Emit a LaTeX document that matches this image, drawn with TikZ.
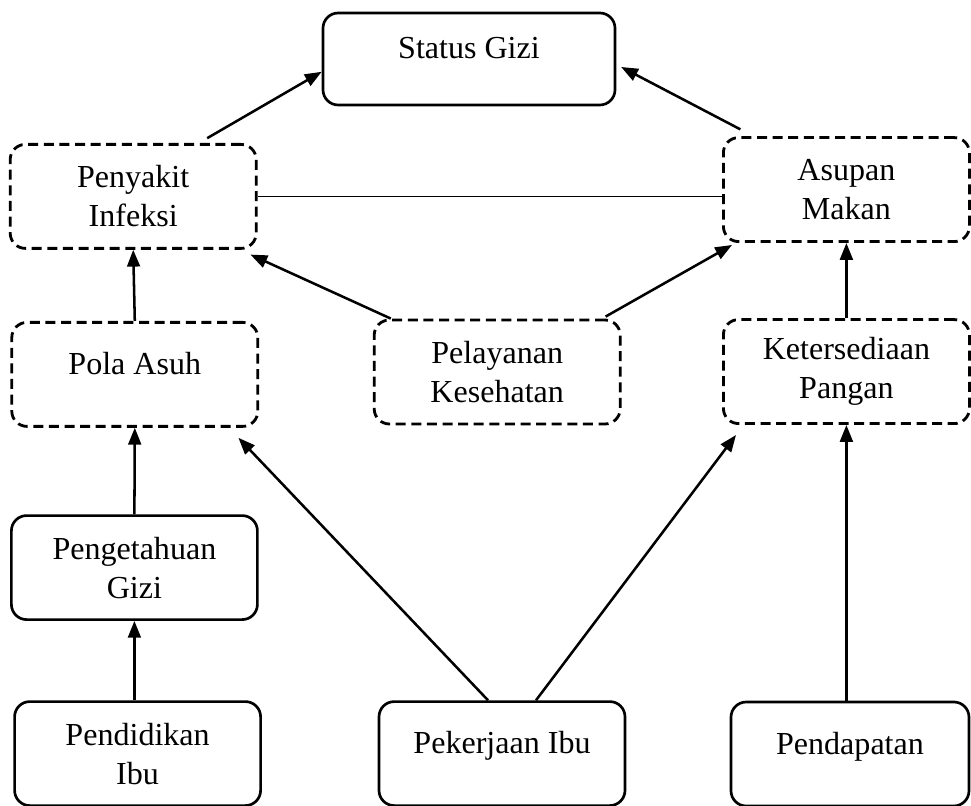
\documentclass[tikz,border=0pt]{standalone}
\usepackage{fontspec}
\setmainfont{Liberation Serif}
\usetikzlibrary{arrows.meta}

\begin{document}
\begin{tikzpicture}[scale=1.0,
  box/.style={draw,line width=1.9pt,rounded corners=0.38cm,minimum width=6.15cm,minimum height=2.6cm,align=center,font=\fontsize{22.8}{27.7}\selectfont},
  dbox/.style={box,line width=2pt,dash pattern=on 0.25cm off 0.14cm},
  toptext/.style={text depth=0.55cm},
  arr/.style={line width=1.8pt,-{Triangle[length=0.42cm,width=0.32cm]}}]
  \useasboundingbox (0,0) rectangle (24.275,20.15);
  \node[box,toptext,minimum width=7.3cm,minimum height=2.3cm] (gizi) at (11.725,18.675) {Status Gizi};
  \node[dbox] (infeksi) at (3.33,15.24) {Penyakit\\Infeksi};
  \node[dbox] (asupan) at (21.16,15.41) {Asupan\\Makan};
  \node[dbox,toptext] (asuh) at (3.37,10.79) {Pola Asuh};
  \node[dbox] (layanan) at (12.43,10.85) {Pelayanan\\Kesehatan};
  \node[dbox] (pangan) at (21.16,10.86) {Ketersediaan\\Pangan};
  \node[box] (tahu) at (3.36,5.96) {Pengetahuan\\Gizi};
  \node[box] (didik) at (3.44,1.31) {Pendidikan\\Ibu};
  \node[box,toptext] (kerja) at (12.55,1.31) {Pekerjaan Ibu};
  \node[box,toptext,minimum width=5.95cm] (dapat) at (21.25,1.30) {Pendapatan};
  \draw[arr] ([xshift=1.85cm,yshift=0.12cm]infeksi.north) -- ([yshift=-0.32cm]gizi.west);
  \draw[arr] ([xshift=-2.65cm,yshift=0.17cm]asupan.north) -- ([xshift=0.12cm,yshift=-0.2cm]gizi.east);
  \draw[line width=1pt] (infeksi.east) -- (infeksi.east -| asupan.west);
  \draw[arr] (asuh.north) -- (infeksi.south);
  \draw[arr] ([xshift=0.45cm]layanan.north west) -- ([xshift=-0.18cm,yshift=-0.12cm]infeksi.south east);
  \draw[arr] ([xshift=-0.4cm,yshift=0.05cm]layanan.north east) -- ([xshift=0.25cm,yshift=-0.05cm]asupan.south west);
  \draw[arr] (pangan.north) -- (asupan.south);
  \draw[arr] (tahu.north) -- (asuh.south);
  \draw[arr] (tahu.south |- didik.north) -- (tahu.south);
  \draw[arr] ([xshift=-0.35cm]kerja.north) -- ([xshift=-0.52cm,yshift=-0.25cm]asuh.south east);
  \draw[arr] ([xshift=0.85cm]kerja.north) -- ([xshift=0.35cm,yshift=-0.25cm]pangan.south west);
  \draw[arr] (pangan.south |- dapat.north) -- (pangan.south);
\end{tikzpicture}
\end{document}
